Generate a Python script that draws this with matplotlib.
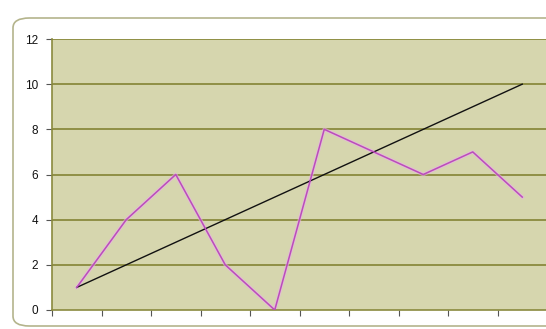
import numpy as np
import matplotlib
matplotlib.use('Agg')
import matplotlib.pyplot as plt
from matplotlib.patches import FancyBboxPatch

plt.rcParams['font.family'] = ['Liberation Sans', 'DejaVu Sans']

# data
categories = np.arange(1, 11)
series_pink = [1, 4, 6, 2, 0, 8, 7, 6, 7, 5]
series_black = [1, 2, 3, 4, 5, 6, 7, 8, 9, 10]
y_ticks = [0, 2, 4, 6, 8, 10, 12]

W, H = 546, 329
fig = plt.figure(figsize=(W / 100, H / 100), dpi=100)
fig.patch.set_facecolor('white')

# outer chart border with rounded corners
border = FancyBboxPatch((13 / W, 3 / H), (W + 20) / W, (H - 18) / H - 3 / H,
                        boxstyle='round,pad=0,rounding_size=0.03',
                        transform=fig.transFigure, facecolor='none',
                        edgecolor='#b4b48c', linewidth=1.2)
fig.patches.append(border)

ax = fig.add_axes([52 / W, 19 / H, 495 / W, 271 / H])
ax.set_facecolor('#d6d6ae')

for y in y_ticks[1:]:
    ax.axhline(y, color='#8a8a3e', linewidth=1.3, zorder=1)

ax.plot(categories, series_black, color='#111111', linewidth=1.0, zorder=3)
ax.plot(categories, series_pink, color='#eab0ea', linewidth=2.6, zorder=2, alpha=0.6)
ax.plot(categories, series_pink, color='#bb4cbb', linewidth=1.1, zorder=4)

ax.set_xlim(0.5, 10.5)
ax.set_ylim(0, 12)
ax.set_yticks(y_ticks)
ax.set_yticklabels([str(v) for v in y_ticks], fontsize=8.5, color='#111111')
ax.set_xticks(np.arange(0.5, 11, 1))
ax.set_xticklabels([])

for side in ['top', 'right']:
    ax.spines[side].set_visible(False)
ax.spines['left'].set_color('#8a8a3e')
ax.spines['bottom'].set_color('#8a8a3e')
ax.spines['left'].set_linewidth(1.2)
ax.spines['bottom'].set_linewidth(1.2)
ax.tick_params(axis='y', length=4, color='#555555', pad=6)
ax.tick_params(axis='x', length=4, color='#555555')

plt.savefig('out.png', dpi=100)
